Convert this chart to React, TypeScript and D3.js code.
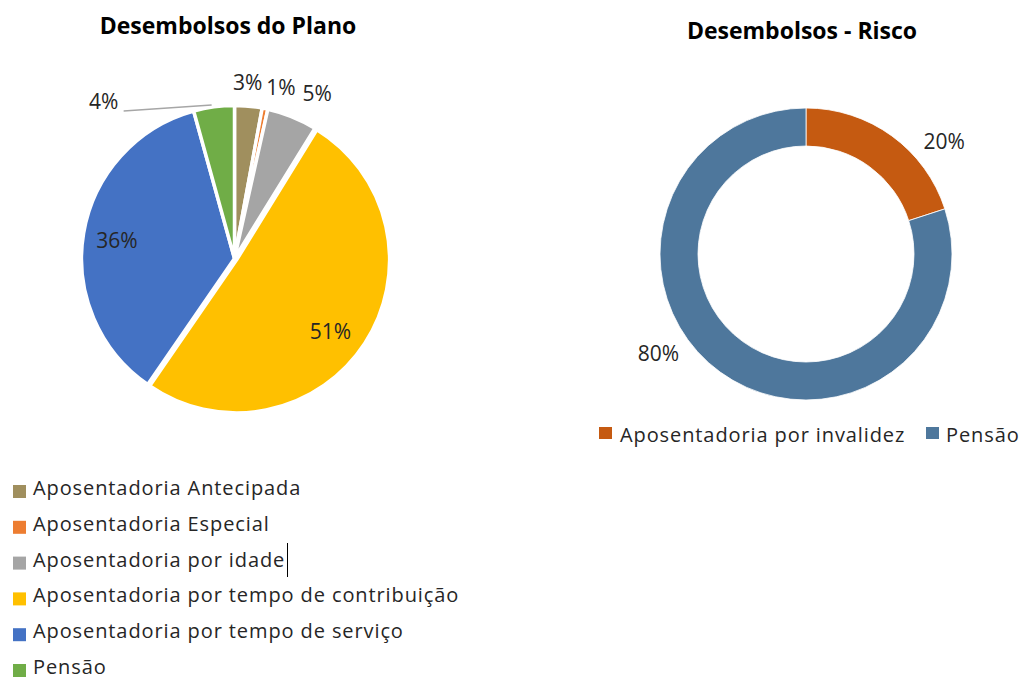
import React from "react";
import * as d3 from "d3";

const planoCategories = [
  "Aposentadoria Antecipada",
  "Aposentadoria Especial",
  "Aposentadoria por idade",
  "Aposentadoria por tempo de contribuição",
  "Aposentadoria por tempo de serviço",
  "Pensão",
];
const planoValues = [2.9, 0.6, 5.3, 50.8, 36.1, 4.3];
const planoColors = ["#A08F5E", "#ED7D31", "#A5A5A5", "#FFC000", "#4472C4", "#70AD47"];

const riscoCategories = ["Aposentadoria por invalidez", "Pensão"];
const riscoValues = [20, 80];
const riscoColors = ["#C55A11", "#4E779C"];

const FONT = "'Open Sans', 'Noto Sans', sans-serif";
const TXT = "#262626";
const LEG_FS = 20;
const LEG_LS = 0.9;
const LBL_FS = 21;

export default function App() {
  const pieGen = d3.pie<number>().sort(null).value((d) => d);
  const planoArcs = pieGen(planoValues);
  const riscoArcs = pieGen(riscoValues);

  const pc = { x: 234.5, y: 258.5 };
  const pR = 153;
  const arcP = d3.arc<any>().innerRadius(0).outerRadius(pR);
  const explode = [0, 0, 0, 2.5, 0, 0];

  const dc = { x: 806, y: 254 };
  const arcD = d3.arc<any>().innerRadius(108).outerRadius(146);

  const polar = (a: number, r: number) => [Math.sin(a) * r, -Math.cos(a) * r];
  const totalP = d3.sum(planoValues);
  const totalR = d3.sum(riscoValues);

  const planoLabelPos = planoArcs.map((a, i) => {
    const mid = (a.startAngle + a.endAngle) / 2;
    const share = planoValues[i] / totalP;
    if (share > 0.1) return polar(mid, pR * 0.78);
    return polar(mid, pR + 24);
  });
  const nudges: [number, number][] = [[-3, 0], [11, 3], [16, -1], [-4, 8], [0, 2], [-107, 19]];

  const fmt = (v: number, total: number) => `${Math.round((v / total) * 100)}%`;

  const legendBase0 = 495;
  const legendStep = 35.8;

  return (
    <svg
      width={1022}
      height={682}
      style={{ position: "absolute", left: 0, top: 0, background: "#fff" }}
      fontFamily={FONT}
    >
      <text x={228} y={34} textAnchor="middle" fontSize={23} fontWeight={700} fill="#000">
        Desembolsos do Plano
      </text>
      <text x={802} y={39} textAnchor="middle" fontSize={23} fontWeight={700} fill="#000">
        Desembolsos - Risco
      </text>

      <g transform={`translate(${pc.x},${pc.y})`}>
        {planoArcs.map((a, i) => {
          const mid = (a.startAngle + a.endAngle) / 2;
          const [ox, oy] = polar(mid, explode[i]);
          return (
            <path
              key={i}
              d={arcP(a) as string}
              transform={`translate(${ox},${oy})`}
              fill={planoColors[i]}
              stroke="#fff"
              strokeWidth={3.5}
              strokeLinejoin="round"
            />
          );
        })}
        {planoArcs.map((a, i) => {
          const lp = planoLabelPos[i];
          const [nx, ny] = nudges[i];
          const x = lp[0] + nx;
          const y = lp[1] + ny;
          const mid = (a.startAngle + a.endAngle) / 2;
          const edge = polar(mid, pR + 2);
          return (
            <g key={"l" + i}>
              {i === 5 && (
                <line x1={x + 20} y1={y + 9} x2={edge[0] - 2} y2={edge[1]} stroke="#A6A6A6" strokeWidth={1.5} />
              )}
              <text x={x} y={y} dy="0.35em" textAnchor="middle" fontSize={LBL_FS} fill={TXT}>
                {fmt(planoValues[i], totalP)}
              </text>
            </g>
          );
        })}
      </g>

      <g transform={`translate(${dc.x},${dc.y})`}>
        {riscoArcs.map((a, i) => (
          <path key={i} d={arcD(a) as string} fill={riscoColors[i]} stroke="#fff" strokeWidth={0.8} />
        ))}
        {riscoArcs.map((a, i) => {
          const mid = (a.startAngle + a.endAngle) / 2 + (i === 0 ? 0.26 : 0.35);
          const [x, y] = polar(mid, 178);
          return (
            <text key={"d" + i} x={x} y={y} dy="0.35em" textAnchor="middle" fontSize={LBL_FS} fill={TXT}>
              {fmt(riscoValues[i], totalR)}
            </text>
          );
        })}
      </g>

      {planoCategories.map((c, i) => {
        const b = legendBase0 + i * legendStep;
        return (
          <g key={"lg" + i}>
            <rect x={13} y={b - 10} width={13} height={13} fill={planoColors[i]} />
            <text x={33} y={b} fontSize={LEG_FS} letterSpacing={LEG_LS} fill={TXT}>
              {c}
            </text>
          </g>
        );
      })}
      <line x1={287.5} y1={543} x2={287.5} y2={577} stroke="#000" strokeWidth={1} />

      <g>
        <rect x={599} y={427} width={13} height={12} fill={riscoColors[0]} />
        <text x={620} y={441.5} fontSize={LEG_FS} letterSpacing={LEG_LS} fill={TXT}>
          {riscoCategories[0]}
        </text>
        <rect x={926} y={427} width={13} height={12} fill={riscoColors[1]} />
        <text x={946} y={441.5} fontSize={LEG_FS} letterSpacing={LEG_LS} fill={TXT}>
          {riscoCategories[1]}
        </text>
      </g>
    </svg>
  );
}
